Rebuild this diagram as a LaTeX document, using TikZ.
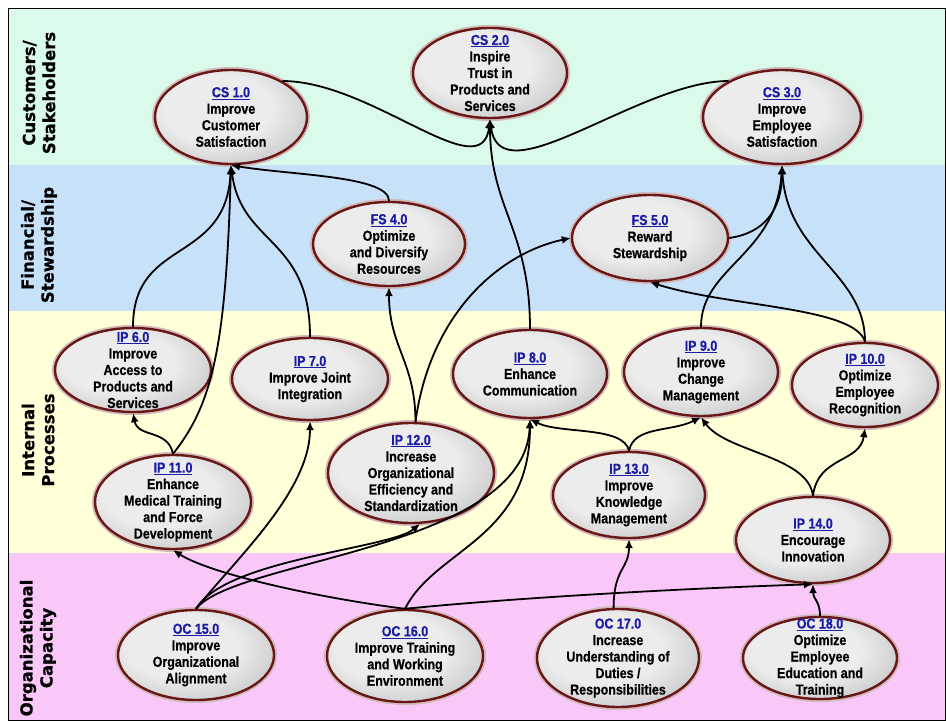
\documentclass[tikz,border=0pt]{standalone}
\usepackage{fontspec}
\setmainfont{Liberation Sans}
\newfontfamily\goalfont{Liberation Sans}[FakeStretch=0.86,BoldFeatures={FakeBold=0.6}]
\newfontfamily\bandfont{DejaVu Sans}[BoldFeatures={FakeBold=0.8}]
\usetikzlibrary{shapes.geometric,arrows.meta}

\definecolor{bandcs}{RGB}{218,250,234}
\definecolor{bandfs}{RGB}{198,225,248}
\definecolor{bandip}{RGB}{255,255,216}
\definecolor{bandoc}{RGB}{249,200,249}
\definecolor{goalrim}{RGB}{105,22,22}
\definecolor{goallight}{RGB}{236,236,236}
\definecolor{goaldark}{RGB}{158,158,158}
\definecolor{idblue}{RGB}{28,28,165}
\pgfdeclareradialshading{goalshade}{\pgfpoint{-6bp}{6bp}}{color(0bp)=(goallight); color(18bp)=(goallight); color(50bp)=(goaldark); color(72bp)=(goaldark)}
\newcommand\goalid[1]{\textcolor{idblue}{\underline{#1}}}

\begin{document}
\begin{tikzpicture}[x=1pt,y=1pt,
  goal/.style={
    ellipse,
    draw=goalrim,
    line width=2.4pt,
    preaction={draw=goalrim!30,line width=6pt},
    shading=goalshade,
    minimum width=154pt,
    minimum height=88pt,
    inner sep=0pt
  },
  goal text/.style={
    font=\goalfont\bfseries\fontsize{14.5}{16.5}\selectfont,
    align=center,
    inner sep=0pt
  },
  band label/.style={
    rotate=90,
    font=\bandfont\bfseries\fontsize{16.5}{20}\selectfont,
    align=center
  },
  link/.style={
    draw=black,
    line width=1.8pt,
    -{Latex[length=9pt,width=8pt]}
  }
]
\useasboundingbox (0,0) rectangle (946,-722);
\foreach \Top/\Bot/\Col in {9/165/bandcs,165/311/bandfs,311/553/bandip,553/720/bandoc}
  {\fill[\Col] (9,-\Top) rectangle (945,-\Bot);}
\draw[line width=0.8pt] (8.5,-8.5) rectangle (945.5,-720.5);

\node[band label] (lblcs) at (39,-93) {Customers/\\Stakeholders};
\node[band label] (lblfs) at (39,-245) {Financial/\\Stewardship};
\node[band label] (lblip) at (38,-440) {Internal\\Processes};
\node[band label] (lbloc) at (38,-648) {Organizational\\Capacity};

% customers / stakeholders
\node[goal, minimum width=152pt, minimum height=94pt,
  label={[goal text]center:{\goalid{CS 1.0}\\Improve\\Customer\\Satisfaction}}] (cs1) at (231,-117) {};
\node[goal, minimum width=154pt, minimum height=90pt,
  label={[goal text]center:{\goalid{CS 2.0}\\Inspire\\Trust in\\Products and\\Services}}] (cs2) at (490,-73) {};
\node[goal, minimum width=158pt, minimum height=94pt,
  label={[goal text]center:{\goalid{CS 3.0}\\Improve\\Employee\\Satisfaction}}] (cs3) at (782,-117) {};
% financial / stewardship
\node[goal, minimum width=152pt, minimum height=84pt,
  label={[goal text]center:{\goalid{FS 4.0}\\Optimize\\and Diversify\\Resources}}] (fs4) at (389,-244) {};
\node[goal, minimum width=156pt, minimum height=86pt,
  label={[goal text]center:{\goalid{FS 5.0}\\Reward\\Stewardship}}] (fs5) at (650,-238) {};
% internal processes
\node[goal, minimum width=156pt, minimum height=84pt,
  label={[goal text]center:{\goalid{IP 6.0}\\Improve\\Access to\\Products and\\Services}}] (ip6) at (133,-370) {};
\node[goal, minimum width=156pt, minimum height=82pt,
  label={[goal text]center:{\goalid{IP 7.0}\\Improve Joint\\Integration}}] (ip7) at (310,-379) {};
\node[goal, minimum width=154pt, minimum height=88pt,
  label={[goal text]center:{\goalid{IP 8.0}\\Enhance\\Communication}}] (ip8) at (530,-374) {};
\node[goal, minimum width=154pt, minimum height=88pt,
  label={[goal text]center:{\goalid{IP 9.0}\\Improve\\Change\\Management}}] (ip9) at (701,-372) {};
\node[goal, minimum width=146pt, minimum height=84pt,
  label={[goal text]center:{\goalid{IP 10.0}\\Optimize\\Employee\\Recognition}}] (ip10) at (865,-385) {};
\node[goal, minimum width=156pt, minimum height=94pt,
  label={[goal text]center:{\goalid{IP 11.0}\\Enhance\\Medical Training\\and Force\\Development}}] (ip11) at (173,-502) {};
\node[goal, minimum width=166pt, minimum height=100pt,
  label={[goal text]center:{\goalid{IP 12.0}\\Increase\\Organizational\\Efficiency and\\Standardization}}] (ip12) at (411,-473) {};
\node[goal, minimum width=152pt, minimum height=86pt,
  label={[goal text]center:{\goalid{IP 13.0}\\Improve\\Knowledge\\Management}}] (ip13) at (629,-495) {};
\node[goal, minimum width=154pt, minimum height=86pt,
  label={[goal text]center:{\goalid{IP 14.0}\\Encourage\\Innovation}}] (ip14) at (813,-540) {};
% organizational capacity
\node[goal, minimum width=156pt, minimum height=90pt,
  label={[goal text]center:{\goalid{OC 15.0}\\Improve\\Organizational\\Alignment}}] (oc15) at (196,-655) {};
\node[goal, minimum width=156pt, minimum height=92pt,
  label={[goal text]center:{\goalid{OC 16.0}\\Improve Training\\and Working\\Environment}}] (oc16) at (405,-656) {};
\node[goal, minimum width=162pt, minimum height=98pt,
  label={[goal text]center:{\textcolor{idblue}{OC 17.0}\\Increase\\Understanding of\\Duties /\\Responsibilities}}] (oc17) at (618,-658) {};
\node[goal, minimum width=154pt, minimum height=82pt,
  label={[goal text]center:{\goalid{OC 18.0}\\Optimize\\Employee\\Education and\\Training}}] (oc18) at (820,-658) {};

% links
\draw[link] (cs1.35) .. controls +(90,0) and +(-8,-70) .. (cs2.south);
\draw[link] (cs3.146) .. controls +(-90,0) and +(10,-80) .. (cs2.south);
\draw[link] (ip8.north) .. controls +(0,100) and +(0,-90) .. (cs2.south);
\draw[link] (fs4.north) .. controls +(0,25) and +(60,-10) .. (cs1.south);
\draw[link] (ip6.north) .. controls +(0,90) and +(-5,-100) .. (cs1.south);
\draw[link] (ip11.north) .. controls +(40,50) and +(-5,-180) .. (cs1.south);
\draw[link] (ip7.north) .. controls +(0,100) and +(10,-80) .. (cs1.south);
\draw[link] (ip11.north) .. controls +(-5,25) and +(5,-25) .. (ip6.south);
\draw[link] (ip12.85) .. controls +(0,60) and +(0,-60) .. (fs4.south);
\draw[link] (ip12.85) .. controls +(15,110) and +(-70,-15) .. (fs5.west);
\draw[link] (fs5.east) .. controls +(35,5) and +(0,-45) .. (cs3.south);
\draw[link] (ip9.north) .. controls +(0,60) and +(-5,-90) .. (cs3.south);
\draw[link] (ip10.north) .. controls +(0,70) and +(5,-90) .. (cs3.south);
\draw[link] (ip10.north) .. controls +(-10,35) and +(80,-25) .. (fs5.south);
\draw[link] (ip13.north) .. controls +(-5,25) and +(30,-15) .. (ip8.south);
\draw[link] (ip13.north) .. controls +(5,25) and +(-30,-15) .. (ip9.south);
\draw[link] (ip14.north) .. controls +(-5,40) and +(25,-35) .. (ip9.south);
\draw[link] (ip14.north) .. controls +(5,40) and +(-5,-35) .. (ip10.south);
\draw[link] (oc17.95) .. controls +(0,40) and +(0,-30) .. (ip13.south);
\draw[link] (oc18.north) .. controls +(0,15) and +(0,-15) .. (ip14.south);
\draw[link] (oc16.north) .. controls +(100,10) and +(-150,-5) .. (ip14.south);
\draw[link] (oc16.north) .. controls +(-80,10) and +(40,-25) .. (ip11.south);
\draw[link] (oc16.north) .. controls +(30,60) and +(0,-120) .. (ip8.south);
\draw[link] (oc15.north) .. controls +(40,50) and +(0,-70) .. (ip7.south);
\draw[link] (oc15.north) .. controls +(30,50) and +(-30,-25) .. (ip12.-80);
\draw[link] (oc15.north) .. controls +(40,50) and +(-5,-130) .. (ip8.south);
\end{tikzpicture}
\end{document}
